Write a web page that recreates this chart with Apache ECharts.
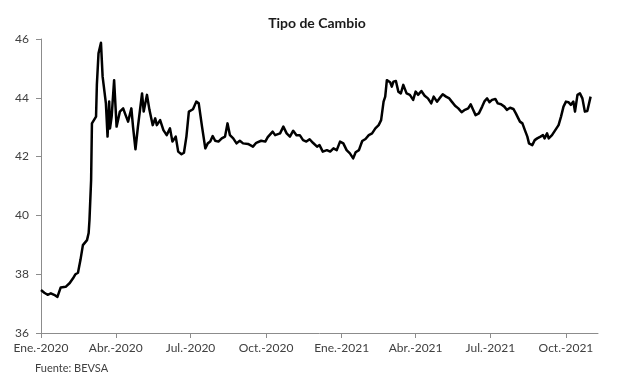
<!DOCTYPE html>
<html>
<head>
<meta charset="utf-8">
<script src="https://cdn.jsdelivr.net/npm/echarts@6/dist/echarts.min.js"></script>
<style>
html,body{margin:0;padding:0;background:#fff;}
#chart{width:617px;height:384px;}
</style>
</head>
<body>
<div id="chart"></div>
<script>
// Fecha y tipo de cambio (UYU por USD)
const dates = [
'2020-01-01','2020-01-05','2020-01-09','2020-01-13','2020-01-17','2020-01-21','2020-01-25','2020-01-31',
'2020-02-05','2020-02-09','2020-02-12','2020-02-15','2020-02-18','2020-02-21','2020-02-26','2020-02-28',
'2020-02-29','2020-03-02','2020-03-03','2020-03-08','2020-03-09','2020-03-11','2020-03-14','2020-03-16',
'2020-03-20','2020-03-22','2020-03-24','2020-03-25','2020-03-27','2020-03-30','2020-04-02','2020-04-06',
'2020-04-10','2020-04-13','2020-04-16','2020-04-20','2020-04-22','2020-04-25','2020-04-28','2020-05-03',
'2020-05-05','2020-05-09','2020-05-12','2020-05-16','2020-05-19','2020-05-21','2020-05-25','2020-05-29',
'2020-06-02','2020-06-06','2020-06-09','2020-06-13','2020-06-16','2020-06-20','2020-06-23','2020-06-26',
'2020-06-29','2020-07-04','2020-07-08','2020-07-11','2020-07-15','2020-07-19','2020-07-22','2020-07-25',
'2020-07-28','2020-07-31','2020-08-04','2020-08-08','2020-08-12','2020-08-15','2020-08-18','2020-08-22',
'2020-08-26','2020-08-30','2020-09-03','2020-09-09','2020-09-15','2020-09-19','2020-09-25','2020-09-30',
'2020-10-03','2020-10-09','2020-10-12','2020-10-18','2020-10-22','2020-10-26','2020-10-30','2020-11-03',
'2020-11-07','2020-11-11','2020-11-15','2020-11-19','2020-11-23','2020-11-27','2020-12-02','2020-12-05',
'2020-12-09','2020-12-14','2020-12-18','2020-12-22','2020-12-26','2020-12-30','2021-01-03','2021-01-07',
'2021-01-11','2021-01-15','2021-01-18','2021-01-22','2021-01-26','2021-01-30','2021-02-03','2021-02-07',
'2021-02-11','2021-02-15','2021-02-18','2021-02-21','2021-02-23','2021-02-25','2021-03-01','2021-03-03',
'2021-03-05','2021-03-08','2021-03-11','2021-03-14','2021-03-17','2021-03-21','2021-03-25','2021-03-29',
'2021-04-01','2021-04-04','2021-04-08','2021-04-12','2021-04-16','2021-04-20','2021-04-23','2021-04-27',
'2021-04-30','2021-05-04','2021-05-08','2021-05-12','2021-05-15','2021-05-19','2021-05-23','2021-05-27',
'2021-05-31','2021-06-04','2021-06-07','2021-06-10','2021-06-13','2021-06-17','2021-06-21','2021-06-24',
'2021-06-27','2021-06-30','2021-07-03','2021-07-07','2021-07-10','2021-07-14','2021-07-18','2021-07-21',
'2021-07-25','2021-07-29','2021-08-01','2021-08-04','2021-08-06','2021-08-09','2021-08-12','2021-08-15',
'2021-08-17','2021-08-21','2021-08-24','2021-08-27','2021-08-31','2021-09-03','2021-09-05','2021-09-08',
'2021-09-10','2021-09-14','2021-09-18','2021-09-22','2021-09-25','2021-09-28','2021-10-01','2021-10-04',
'2021-10-07','2021-10-10','2021-10-12','2021-10-15','2021-10-18','2021-10-21','2021-10-24','2021-10-27',
'2021-10-31'
];
const values = [
37.46,37.37,37.30,37.35,37.30,37.23,37.55,37.57,
37.70,37.86,38.00,38.05,38.48,38.99,39.16,39.40,
39.84,41.20,43.13,43.36,44.44,45.51,45.87,44.72,
43.81,42.68,43.87,42.96,43.36,44.60,43.02,43.53,
43.64,43.41,43.19,43.64,43.02,42.25,43.02,44.15,
43.53,44.10,43.59,43.07,43.30,43.07,43.24,42.90,
42.73,42.96,42.51,42.68,42.17,42.08,42.13,42.68,
43.53,43.61,43.87,43.81,43.02,42.28,42.45,42.51,
42.70,42.54,42.51,42.62,42.68,43.13,42.73,42.62,
42.45,42.54,42.45,42.43,42.34,42.47,42.54,42.51,
42.66,42.85,42.73,42.79,43.02,42.79,42.68,42.88,
42.73,42.73,42.56,42.51,42.59,42.47,42.34,42.39,
42.17,42.22,42.17,42.28,42.22,42.51,42.45,42.22,
42.11,41.94,42.15,42.22,42.53,42.60,42.73,42.79,
42.96,43.07,43.24,43.87,44.04,44.60,44.53,44.38,
44.55,44.57,44.21,44.15,44.44,44.15,44.10,43.93,
44.21,44.10,44.23,44.07,43.98,43.81,44.04,43.87,
43.98,44.12,44.04,43.98,43.87,43.73,43.64,43.51,
43.59,43.64,43.78,43.59,43.41,43.47,43.70,43.89,
43.98,43.85,43.93,43.96,43.81,43.78,43.70,43.59,
43.66,43.62,43.47,43.30,43.19,43.13,42.90,42.68,
42.45,42.39,42.56,42.62,42.68,42.73,42.62,42.79,
42.62,42.73,42.90,43.07,43.36,43.70,43.87,43.85,
43.76,43.87,43.53,44.10,44.15,43.98,43.53,43.55,
44.04
];
const tickDates = ['2020-01-01','2020-04-01','2020-07-01','2020-10-01','2021-01-01','2021-04-01','2021-07-01','2021-10-01'];
const tickLabels = ['Ene.-2020','Abr.-2020','Jul.-2020','Oct.-2020','Ene.-2021','Abr.-2021','Jul.-2021','Oct.-2021'];
const axisStart = '2020-01-01';
const axisEnd = '2021-11-09';
const yTicks = [36, 38, 40, 42, 44, 46];

function dayOf(s) {
  const p = s.split('-').map(Number);
  const a = p.length ? Date.UTC(p[0], p[1] - 1, p[2]) : 0;
  const b = Date.UTC(2020, 0, 1);
  return Math.round((a - b) / 86400000);
}
const tickDays = tickDates.map(dayOf);
const labelMap = {};
tickDays.forEach((d, i) => { labelMap[d] = tickLabels[i]; });
const seriesData = dates.map((d, i) => [dayOf(d), values[i]]);

const FONT = 'Lato, "Open Sans", sans-serif';
const chart = echarts.init(document.getElementById('chart'), null, {renderer: 'canvas'});
chart.setOption({
  animation: false,
  backgroundColor: '#ffffff',
  title: {
    text: 'Tipo de Cambio',
    left: 312,
    textAlign: 'center',
    top: 11,
    textStyle: {fontFamily: FONT, fontSize: 14, fontWeight: 'bold', color: '#1a1a1a'}
  },
  grid: {left: 41, right: 19, top: 39, bottom: 51, containLabel: false},
  xAxis: {
    type: 'value',
    min: dayOf(axisStart),
    max: dayOf(axisEnd),
    axisLine: {show: true, lineStyle: {color: '#8c8c8c', width: 1}},
    axisTick: {show: true, customValues: tickDays, length: 5, lineStyle: {color: '#8c8c8c'}},
    axisLabel: {
      show: true,
      customValues: tickDays,
      formatter: v => labelMap[v] || '',
      fontFamily: FONT, fontSize: 12, color: '#404040', margin: 9
    },
    splitLine: {show: false}
  },
  yAxis: {
    type: 'value',
    min: yTicks[0],
    max: yTicks[yTicks.length - 1],
    interval: 2,
    axisLine: {show: true, lineStyle: {color: '#8c8c8c', width: 1}},
    axisTick: {show: true, length: 5, lineStyle: {color: '#8c8c8c'}},
    axisLabel: {fontFamily: FONT, fontSize: 12, color: '#404040', margin: 12},
    splitLine: {show: false}
  },
  graphic: [{
    type: 'text',
    left: 35,
    top: 363,
    style: {text: 'Fuente: BEVSA', font: '11px ' + FONT, fill: '#404040'}
  }],
  series: [{
    type: 'line',
    data: seriesData,
    showSymbol: false,
    symbol: 'none',
    lineStyle: {color: '#000000', width: 2.5, join: 'round'},
    silent: true
  }]
});
</script>
</body>
</html>
